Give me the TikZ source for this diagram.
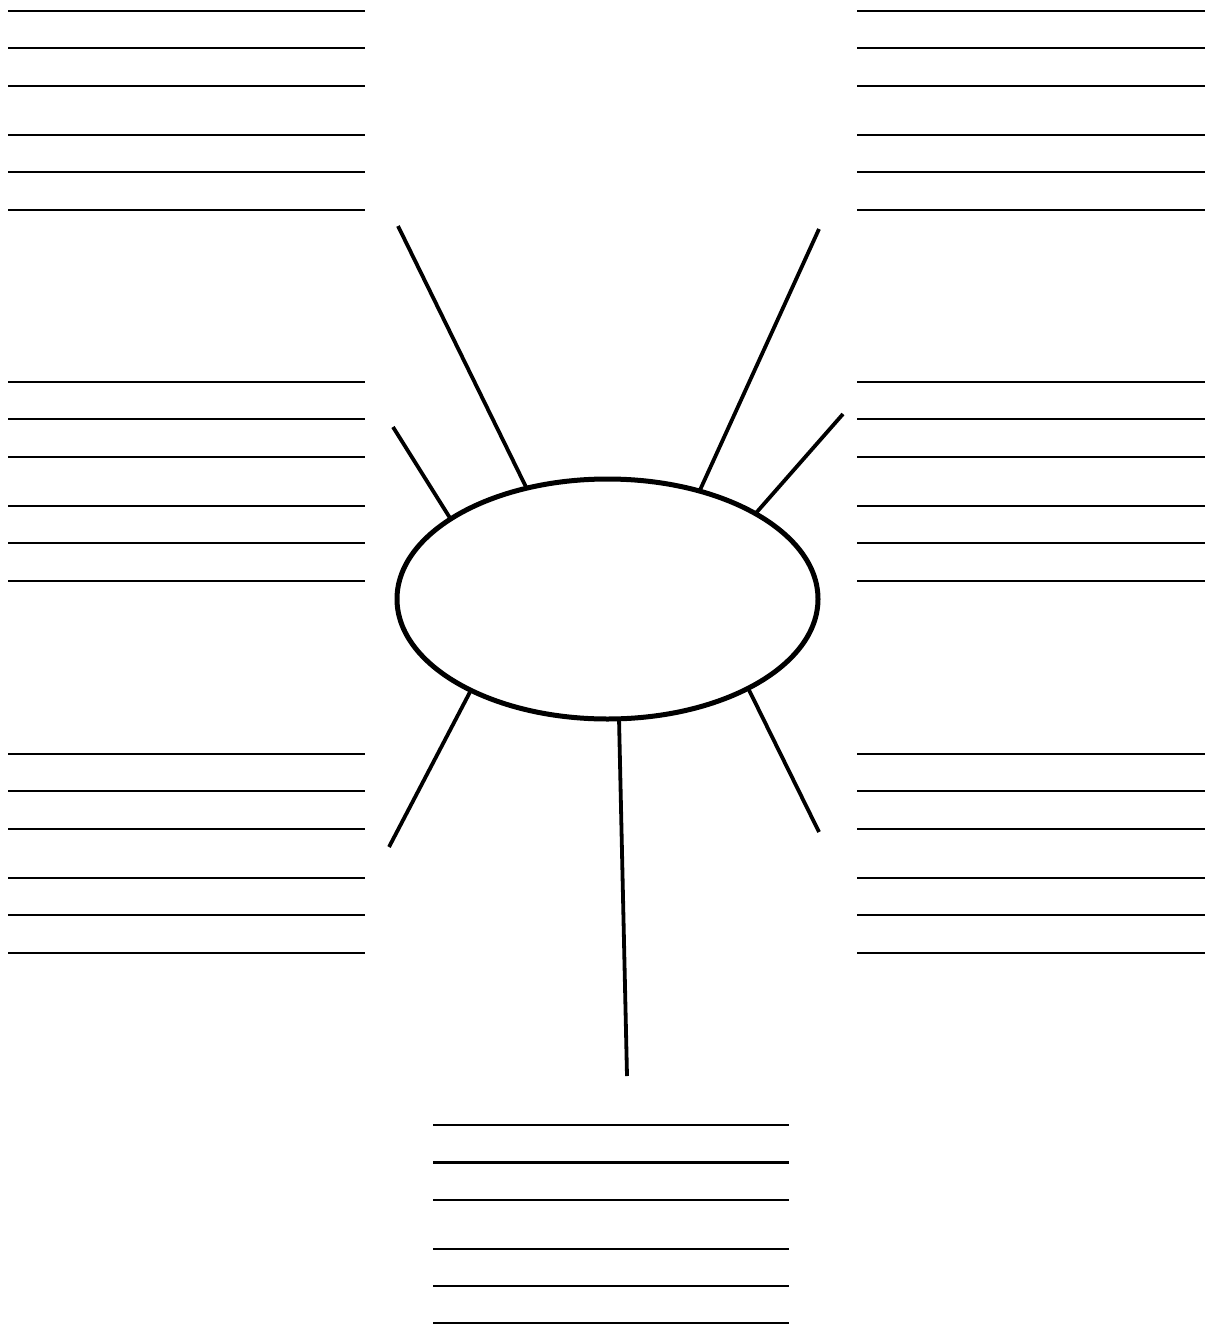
\documentclass[tikz,border=0pt]{standalone}
\usetikzlibrary{shapes.geometric}
\begin{document}
\begin{tikzpicture}[x=1pt,y=-1pt,
  blankline/.style={line width=2.3pt,black},
  spoke/.style={line width=3.8pt,black},
  hub/.style={draw,ellipse,line width=5pt,minimum width=421pt,minimum height=240pt,inner sep=0pt}]
\useasboundingbox (0,0) rectangle (1205,1325);
% spoke end points
\coordinate (a1) at (398,226);  \coordinate (b1) at (526,487);
\coordinate (a2) at (393,427);  \coordinate (b2) at (450,518);
\coordinate (a3) at (819,229);  \coordinate (b3) at (700,490);
\coordinate (a4) at (843,414);  \coordinate (b4) at (756,513);
\coordinate (a5) at (389,847);  \coordinate (b5) at (470,692);
\coordinate (a6) at (627,1076); \coordinate (b6) at (619,718);
\coordinate (a7) at (819,832);  \coordinate (b7) at (749,690);
\foreach \i in {1,...,7} { \draw[spoke] (a\i) -- (b\i); }
% central ellipse
\node[hub] (c) at (607.5,599) {};
% writing lines
\foreach \base in {11,382,754} {
  \foreach \d in {0,37.3,75,124,161.3,199} {
    \draw[blankline] (8,\base+\d) -- (365,\base+\d);
    \draw[blankline] (857,\base+\d) -- (1205,\base+\d);
  }
}
\foreach \d in {0,37.5,75,124,161.3,198} {
  \draw[blankline] (433,1125+\d) -- (789,1125+\d);
}
\end{tikzpicture}
\end{document}
